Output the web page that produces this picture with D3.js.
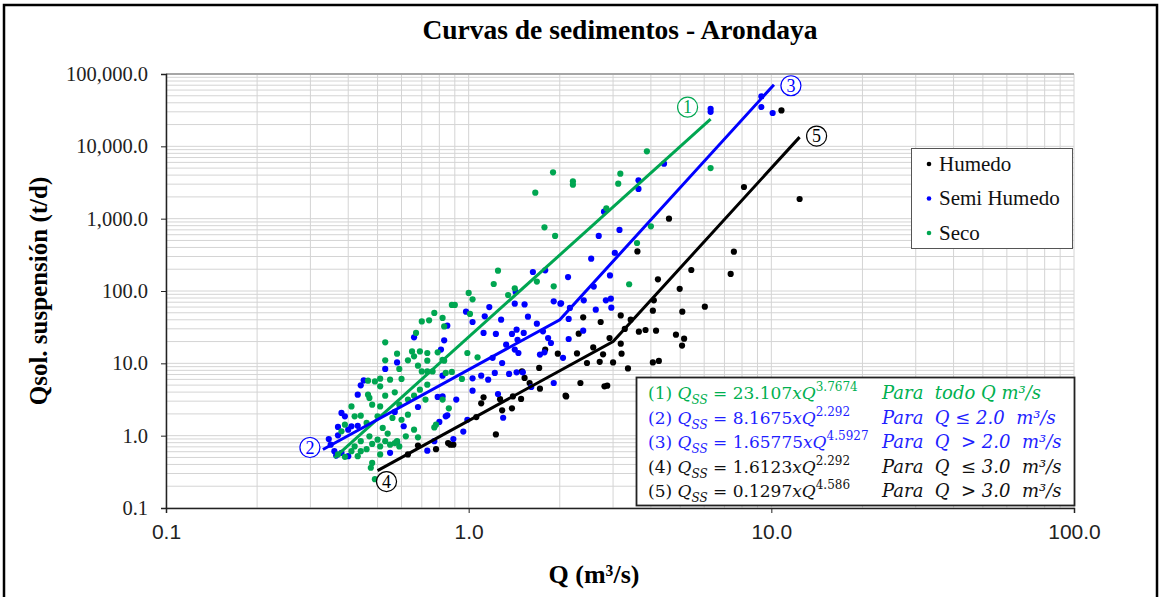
<!DOCTYPE html>
<html>
<head>
<meta charset="utf-8">
<script src="https://cdn.jsdelivr.net/npm/d3@7"></script>
<style>
  body { margin: 0; background: #fff; }
  svg { display: block; }
</style>
</head>
<body>
<svg id="chart" width="1161" height="597"></svg>
<script>
// Observed pairs [Q (m3/s), Qss (t/d)] per hydrological season
const humedo = [
  [12.4,1870],[10.8,31400],[8.12,2740],[7.52,350],[7.34,172],[5.44,195],[6.03,60.7],[4.59,1000],
  [3.61,353],[4.22,145],[4.98,107],[4.09,74.3],[4.06,53.5],[5.08,51.8],[2.39,43.2],[3.18,46.0],
  [2.73,37.3],[3.43,40.2],[3.28,29.9],[2.31,25.7],[2.92,22.4],[3.18,18.7],[3.65,27.4],[3.84,28.9],
  [4.16,28.3],[4.84,24.9],[5.15,21.9],[5.07,17.6],[2.58,16.6],[2.28,13.7],[2.78,13.3],[3.0,10.3],
  [3.2,13.6],[2.71,10.5],[2.46,10.1],[3.36,8.5],[4.06,10.3],[4.25,10.8],[2.34,5.35],[2.81,4.81],
  [2.87,4.91],[2.10,3.49],[1.79,15.5],[1.97,13.6],[1.50,7.74],[1.53,6.28],[1.71,8.63],[1.59,5.35],
  [1.72,4.47],[2.09,3.57],[1.40,3.49],[1.49,3.22],[1.12,3.39],[1.10,2.80],[1.29,2.24],[1.39,2.39],
  [1.06,1.81],[1.23,1.04],[0.87,0.75],[0.89,0.75],[0.63,0.55],[0.68,0.73],[0.78,0.65],[0.855,0.79],
  [1.27,3.2]
];
const semiHumedo = [
  [6.3,33000],[6.3,30000],[9.27,49000],[9.27,35000],[10.1,28900],[4.42,5760],[3.64,3390],[3.64,2580],
  [2.80,1250],[3.15,698],[2.69,577],[3.04,336],[2.54,280],[2.13,156],[2.93,164],[2.59,115],
  [2.02,67.5],[2.40,74.3],[2.16,58.3],[2.84,74.3],[2.95,78.4],[2.96,58.9],[2.63,55.2],[2.14,41.1],
  [2.39,28.3],[2.14,21.7],[2.05,11.9],[1.63,183],[1.79,193],[1.43,97],[1.17,60],[1.42,66.8],
  [1.53,65.3],[0.98,51.8],[1.13,44.6],[1.28,40.2],[1.57,44.2],[1.03,37.3],[0.85,33.2],[1.68,35.3],
  [1.91,71.9],[2.01,66.8],[1.12,26.3],[1.23,25.5],[1.39,25.5],[1.44,29.2],[1.52,26.3],[1.76,27.7],
  [0.83,20.8],[1.45,21.2],[1.83,22.4],[1.87,19.1],[1.33,18.1],[1.42,15.5],[1.46,13.9],[1.72,13.2],
  [1.78,14.2],[0.81,15.5],[1.20,11.9],[1.29,10.1],[1.36,7.13],[1.44,7.5],[1.51,7.5],[1.03,6.2],
  [1.10,6.76],[1.16,5.95],[1.22,7.36],[1.61,4.71],[1.91,5.35],[1.03,4.19],[1.25,3.77],[1.30,1.77],
  [0.99,1.66],[0.85,1.91],[0.91,3.15],[0.82,3.49],[0.96,1.14],[0.89,0.90],[0.66,22.9],[0.58,10.3],
  [0.53,8.36],[0.45,5.8],[0.44,4.96],[0.43,3.69],[0.79,3.43],[0.57,2.13],[0.38,2.06],[0.39,1.85],
  [0.41,1.35],[0.43,1.37],[0.37,1.32],[0.40,1.21],[0.37,1.01],[0.58,0.82],[0.55,0.58],[0.35,0.75],
  [0.345,0.90],[0.36,0.61],[0.365,0.53],[0.38,0.58],[0.40,0.52],[0.73,0.62],[0.77,0.84],[0.68,2.49],
  [0.84,1.85],[0.80,1.55],[0.61,1.35],[0.82,6.76]
];
const seco = [
  [6.3,5000],[3.88,8520],[2.21,3280],[2.21,2950],[3.17,4190],[3.12,3050],[2.85,1390],[4.0,783],
  [3.6,461],[3.39,124],[1.90,4370],[1.66,2290],[1.78,758],[1.93,577],[1.25,191],[1.21,125],
  [1.68,135],[1.42,109],[1.35,88],[1.91,116],[1.0,94],[1.03,76.6],[0.88,64.1],[0.90,64.1],
  [1.01,48.2],[0.82,42.4],[0.99,13.9],[1.07,12.1],[0.83,10.9],[0.88,7.6],[0.95,6.08],[0.82,3.15],
  [0.86,2.39],[0.77,49.7],[0.70,38],[0.74,39.3],[0.67,26.3],[0.53,19.5],[0.65,14.6],[0.69,14.6],
  [0.73,13.9],[0.79,14.2],[0.58,13.6],[0.53,11.0],[0.63,11.0],[0.66,12.5],[0.73,10.9],[0.68,9.29],
  [0.70,7.74],[0.73,7.74],[0.59,8.36],[0.51,6.14],[0.55,5.95],[0.60,6.08],[0.465,5.76],[0.49,5.63],
  [0.51,4.81],[0.57,3.97],[0.465,3.69],[0.53,3.57],[0.47,3.32],[0.63,3.15],[0.72,3.15],[0.51,2.54],
  [0.48,2.68],[0.59,2.68],[0.41,2.54],[0.42,1.85],[0.44,1.89],[0.39,1.42],[0.38,1.15],[0.52,1.28],
  [0.47,0.98],[0.54,1.07],[0.44,0.84],[0.48,0.77],[0.50,0.88],[0.51,0.71],[0.53,0.84],[0.58,0.84],
  [0.55,0.75],[0.57,0.79],[0.59,0.71],[0.62,0.98],[0.42,0.71],[0.44,0.61],[0.46,0.65],[0.43,0.52],
  [0.51,0.55],[0.475,0.36],[0.48,0.42],[0.37,0.55],[0.39,0.51],[0.41,0.61],[0.77,1.30],[0.78,1.42],
  [0.68,0.95],[0.83,32.4],[0.82,11.2],[0.76,7.74],[0.84,7.36],[0.73,5.07],[0.69,4.33],[0.66,3.57],
  [0.50,1.85],[0.46,1.50],[0.56,1.76],[0.60,1.66],[0.63,1.95],[0.66,1.21],[0.49,0.25]
];

// Axis ticks
const xTicks = [0.1, 1, 10, 100];
const yTicks = [0.1, 1, 10, 100, 1000, 10000, 100000];

// Fitted power laws Qss = a * Q^b, each valid on [qMin, qMax]
const fit1 = { a: 23.107,  b: 3.7674, qMin: 0.36, qMax: 6.3 };
const fit2 = { a: 8.1675,  b: 2.292,  qMin: 0.33, qMax: 2.0 };
const fit3 = { a: 1.65775, b: 4.5927, qMin: 2.0,  qMax: 10.2 };
const fit4 = { a: 1.6123,  b: 2.292,  qMin: 0.5,  qMax: 3.0 };
const fit5 = { a: 0.1297,  b: 4.586,  qMin: 3.0,  qMax: 12.4 };

const seriesNames = ["Humedo", "Semi Humedo", "Seco"];
const equationLines = [
  { n: "(1)", coef: "23.107", exp: "3.7674", cond: "Para  todo Q m³/s", gap: false },
  { n: "(2)", coef: "8.1675", exp: "2.292", cond: "Para  Q \u2264 2.0  m³/s", gap: false },
  { n: "(3)", coef: "1.65775", exp: "4.5927", cond: "Para  Q  > 2.0  m³/s", gap: false },
  { n: "(4)", coef: "1.6123", exp: "2.292", cond: "Para  Q  \u2264 3.0  m³/s", gap: true },
  { n: "(5)", coef: "0.1297", exp: "4.586", cond: "Para  Q  > 3.0  m³/s", gap: true }
];

const colHumedo = "#000000", colSemi = "#0000ff", colSeco = "#00a651";
const eqColors = ["#00b050", "#1f1fff", "#1f1fff", "#111111", "#111111"];

const svg = d3.select("#chart");
const margin = { left: 166, right: 1074, top: 74, bottom: 508 };
const x = d3.scaleLog().domain([0.1, 100]).range([margin.left, margin.right]);
const y = d3.scaleLog().domain([0.1, 100000]).range([margin.bottom, margin.top]);
const serif = "Liberation Serif, Times New Roman, serif";

// outer frame
svg.append("rect").attr("x", 4).attr("y", 5).attr("width", 1153).attr("height", 600)
  .attr("fill", "none").attr("stroke", "#000").attr("stroke-width", 2.5);

// title
svg.append("text").attr("x", 620).attr("y", 39).attr("text-anchor", "middle")
  .attr("font-family", serif).attr("font-weight", "bold")
  .attr("font-size", 27.5).text("Curvas de sedimentos - Arondaya");

// minor + major gridlines
const minor = (lo, hi) => {
  const out = [];
  for (let d = lo; d < hi; d *= 10) for (let k = 2; k <= 9; k++) out.push(d * k);
  return out;
};
const grid = svg.append("g");
grid.selectAll("line.vx").data(minor(0.1, 100).concat(xTicks)).join("line")
  .attr("x1", d => x(d)).attr("x2", d => x(d)).attr("y1", margin.top).attr("y2", margin.bottom)
  .attr("stroke", "#d4d4d4").attr("stroke-width", 1);
grid.selectAll("line.hy").data(minor(0.1, 100000).concat(yTicks)).join("line")
  .attr("y1", d => y(d)).attr("y2", d => y(d)).attr("x1", margin.left).attr("x2", margin.right)
  .attr("stroke", "#d4d4d4").attr("stroke-width", 1);
// plot top border
svg.append("line").attr("x1", margin.left).attr("x2", margin.right)
  .attr("y1", margin.top).attr("y2", margin.top).attr("stroke", "#a6a6a6").attr("stroke-width", 2);

// axes
const yAxis = svg.append("g").attr("transform", `translate(${margin.left},0)`)
  .call(d3.axisLeft(y).tickValues(yTicks).tickFormat(d3.format(",.1f")).tickSize(5).tickPadding(13));
yAxis.selectAll("text").attr("font-family", serif).attr("font-size", 20.5).attr("fill", "#222");
const xAxis = svg.append("g").attr("transform", `translate(0,${margin.bottom})`)
  .call(d3.axisBottom(x).tickValues(xTicks).tickFormat(d3.format(".1f")).tickSize(5).tickPadding(11));
xAxis.selectAll("text").attr("font-family", "Liberation Sans, Arial, sans-serif")
  .attr("font-size", 21).attr("fill", "#222");
[yAxis, xAxis].forEach(a => {
  a.select(".domain").attr("stroke", "#222").attr("stroke-width", 1.5);
  a.selectAll(".tick line").attr("stroke", "#222");
});

// axis titles
svg.append("text").attr("transform", `translate(47,${(margin.top + margin.bottom) / 2}) rotate(-90)`)
  .attr("text-anchor", "middle").attr("font-family", serif)
  .attr("font-weight", "bold").attr("font-size", 25).text("Qsol. suspensión (t/d)");
svg.append("text").attr("x", 594).attr("y", 583).attr("text-anchor", "middle")
  .attr("font-family", serif).attr("font-weight", "bold").attr("font-size", 26).text("Q (m³/s)");

// scatter
const pts = svg.append("g");
[[humedo, colHumedo], [semiHumedo, colSemi], [seco, colSeco]].forEach(([data, c]) => {
  pts.append("g").selectAll("circle").data(data).join("circle")
    .attr("cx", d => x(d[0])).attr("cy", d => y(d[1])).attr("r", 3.1).attr("fill", c);
});

// fitted curves
const evalFit = (f, q) => [q, f.a * Math.pow(q, f.b)];
const line = d3.line().x(d => x(d[0])).y(d => y(d[1]));
const curves = [
  { pts: [evalFit(fit1, fit1.qMin), evalFit(fit1, fit1.qMax)], c: colSeco },
  { pts: [evalFit(fit2, fit2.qMin), evalFit(fit2, fit2.qMax), evalFit(fit3, fit3.qMax)], c: colSemi },
  { pts: [evalFit(fit4, fit4.qMin), evalFit(fit4, fit4.qMax), evalFit(fit5, fit5.qMax)], c: colHumedo }
];
svg.append("g").selectAll("path").data(curves).join("path")
  .attr("d", d => line(d.pts)).attr("fill", "none").attr("stroke", d => d.c).attr("stroke-width", 3);

// circled curve numbers, anchored to curve ends
const markers = [
  { n: "1", at: evalFit(fit1, fit1.qMax), dx: -23, dy: -12, c: colSeco },
  { n: "2", at: evalFit(fit2, fit2.qMin), dx: -13, dy: -2, c: colSemi },
  { n: "3", at: evalFit(fit3, fit3.qMax), dx: 17, dy: 1, c: colSemi },
  { n: "4", at: evalFit(fit4, fit4.qMin), dx: 9, dy: 11, c: colHumedo },
  { n: "5", at: evalFit(fit5, fit5.qMax), dx: 17, dy: -1, c: colHumedo }
];
const mk = svg.append("g").selectAll("g").data(markers).join("g")
  .attr("transform", d => `translate(${x(d.at[0]) + d.dx},${y(d.at[1]) + d.dy})`);
mk.append("circle").attr("r", 10).attr("fill", "#fff").attr("stroke", d => d.c).attr("stroke-width", 1.2);
mk.append("text").attr("text-anchor", "middle").attr("y", 6)
  .attr("font-family", serif).attr("font-size", 18).attr("fill", d => d.c).text(d => d.n);

// legend
const lg = svg.append("g");
lg.append("rect").attr("x", 911.5).attr("y", 148.5).attr("width", 161).attr("height", 100)
  .attr("fill", "#fff").attr("stroke", "#555").attr("stroke-width", 1);
seriesNames.forEach((name, i) => {
  const cy = 164 + i * 34.5;
  lg.append("circle").attr("cx", 929).attr("cy", cy).attr("r", 2.3)
    .attr("fill", [colHumedo, colSemi, colSeco][i]);
  lg.append("text").attr("x", 939).attr("y", cy + 6.5)
    .attr("font-family", serif).attr("font-size", 21).attr("fill", "#111").text(name);
});

// equation box
const eq = svg.append("g");
eq.append("rect").attr("x", 636.5).attr("y", 377.5).attr("width", 438).attr("height", 128)
  .attr("fill", "#fff").attr("stroke", "#222").attr("stroke-width", 1.8);
const mathFont = "DejaVu Serif, serif";
equationLines.forEach((l, i) => {
  const base = 399 + i * 24.5;
  const t = eq.append("text").attr("x", 648).attr("y", base).attr("font-family", mathFont)
    .attr("font-size", 17).attr("fill", eqColors[i]);
  t.append("tspan").text(l.n + " ");
  t.append("tspan").attr("font-style", "italic").text("Q");
  t.append("tspan").attr("font-style", "italic").attr("font-size", 12).attr("dy", 5).text("SS");
  t.append("tspan").attr("dy", -5).text((l.gap ? "  = " : " = ") + l.coef);
  t.append("tspan").attr("font-style", "italic").text("xQ");
  t.append("tspan").attr("font-size", 12).attr("dy", -8).text(l.exp);
  eq.append("text").attr("x", 882).attr("y", base).attr("font-family", mathFont)
    .attr("font-size", 18).attr("font-style", "italic").attr("fill", eqColors[i])
    .style("white-space", "pre").text(l.cond);
});
</script>
</body>
</html>
